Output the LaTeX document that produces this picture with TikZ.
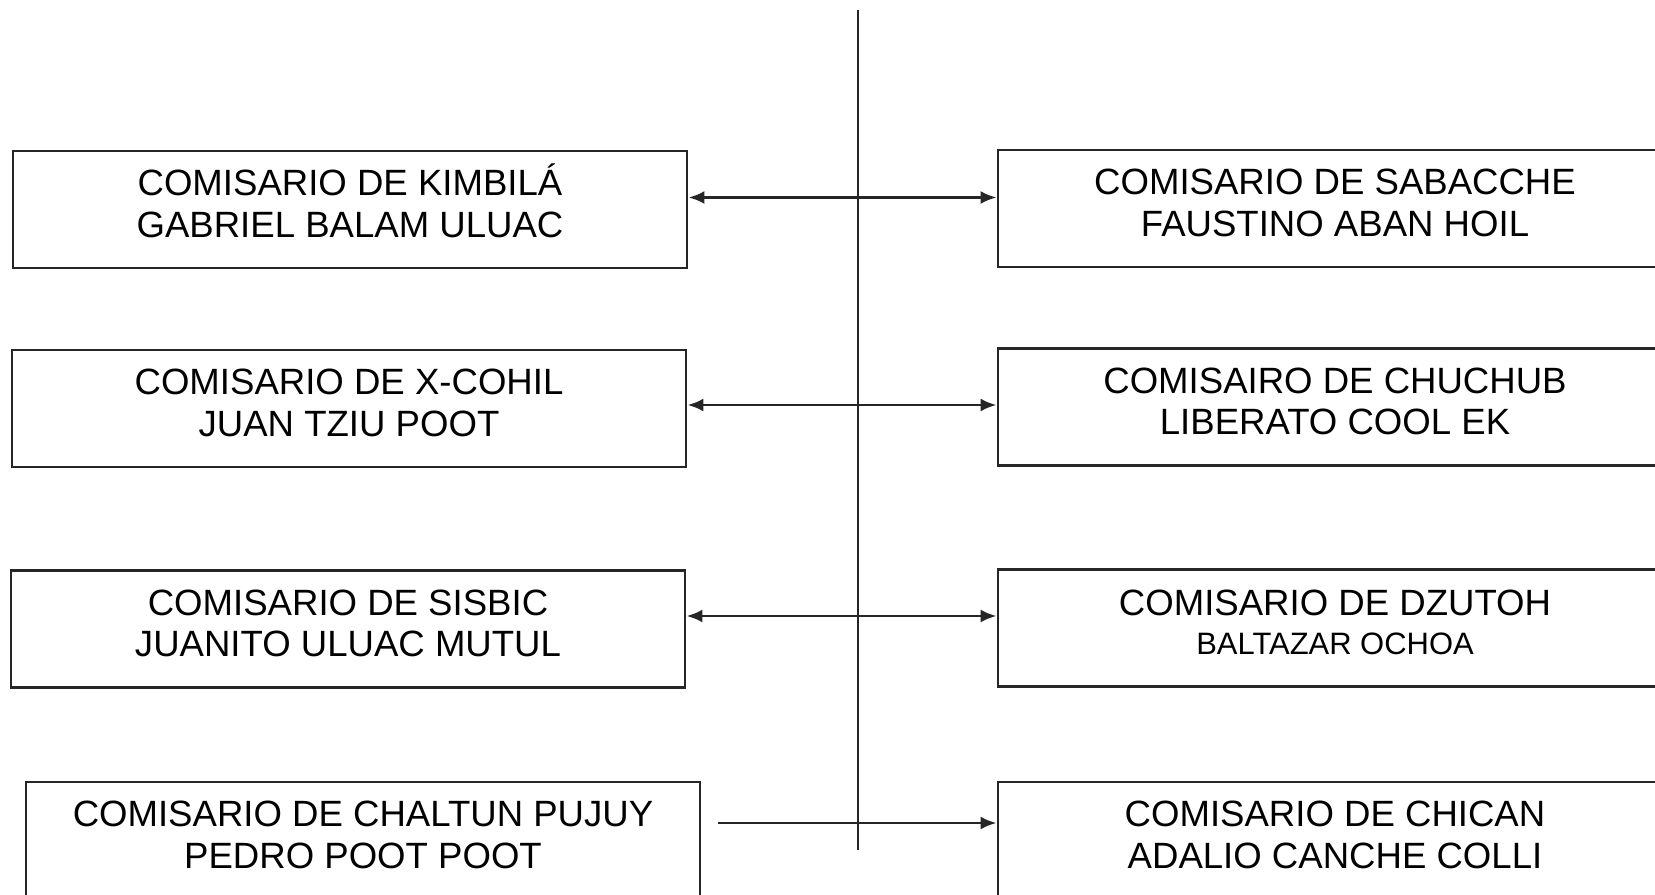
\documentclass[tikz,border=0pt]{standalone}
\usepackage{fontspec}
\setmainfont{Liberation Sans}
\usetikzlibrary{arrows.meta}
\def\dosl#1#2{\rule{0pt}{0.36cm}#1\\#2\rule[-0.22cm]{0pt}{0.22cm}}
\tikzset{
	caja/.style={draw=black!85, line width=0.7pt, minimum width=6.74cm, minimum height=1.17cm, inner sep=0pt, align=center, font=\fontsize{10.4}{11.9}\selectfont},
	flecha/.style={line width=0.8pt, draw=black!85, -{Latex[length=0.16cm,width=0.13cm]}},
	dobleflecha/.style={flecha, {Latex[length=0.16cm,width=0.13cm]}-{Latex[length=0.16cm,width=0.13cm]}}
}

\begin{document}
\begin{tikzpicture}[x=0.01cm,y=-0.01cm]
			%%%%% START %%%%%
			
			\clip (0,0) rectangle (1655,894);
			
			\coordinate (arriba) at (858,10);
			\coordinate (abajo) at (858,850);
			\draw[line width=0.7pt, black!85] (arriba) -- (abajo);
			
			\node[caja] (kimbila) at (350,209.5) {\dosl{COMISARIO DE KIMBILÁ}{GABRIEL BALAM ULUAC}};
			\node[caja] (sabacche) at (1335,208.5) {\dosl{COMISARIO DE SABACCHE}{FAUSTINO ABAN HOIL}};
			\draw[dobleflecha] ([yshift=0.12cm]kimbila.east) -- ([yshift=0.12cm]kimbila.east -| sabacche.west);
			
			\node[caja] (xcohil) at (349,408.5) {\dosl{COMISARIO DE X-COHIL}{JUAN TZIU POOT}};
			\node[caja] (chuchub) at (1335,407) {\dosl{COMISAIRO DE CHUCHUB}{LIBERATO COOL EK}};
			\draw[dobleflecha] ([yshift=0.035cm]xcohil.east) -- ([yshift=0.035cm]xcohil.east -| chuchub.west);
			
			\node[caja] (sisbic) at (348,629) {\dosl{COMISARIO DE SISBIC}{JUANITO ULUAC MUTUL}};
			\node[caja] (dzutoh) at (1335,628) {\rule{0pt}{0.36cm}COMISARIO DE DZUTOH\\[-0.03cm]{\fontsize{8.8}{10.5}\selectfont BALTAZAR OCHOA}\rule[-0.22cm]{0pt}{0.22cm}};
			\draw[dobleflecha] ([yshift=0.13cm]sisbic.east) -- ([yshift=0.13cm]sisbic.east -| dzutoh.west);
			
			\node[caja] (chaltun) at (363,840.5) {\dosl{COMISARIO DE CHALTUN PUJUY}{PEDRO POOT POOT}};
			\node[caja] (chican) at (1335,840.5) {\dosl{COMISARIO DE CHICAN}{ADALIO CANCHE COLLI}};
			\coordinate (salida) at (718,823);
			\draw[flecha] (salida) -- (salida -| chican.west);
			
			%%%%% END %%%%%
\end{tikzpicture}
\end{document}
